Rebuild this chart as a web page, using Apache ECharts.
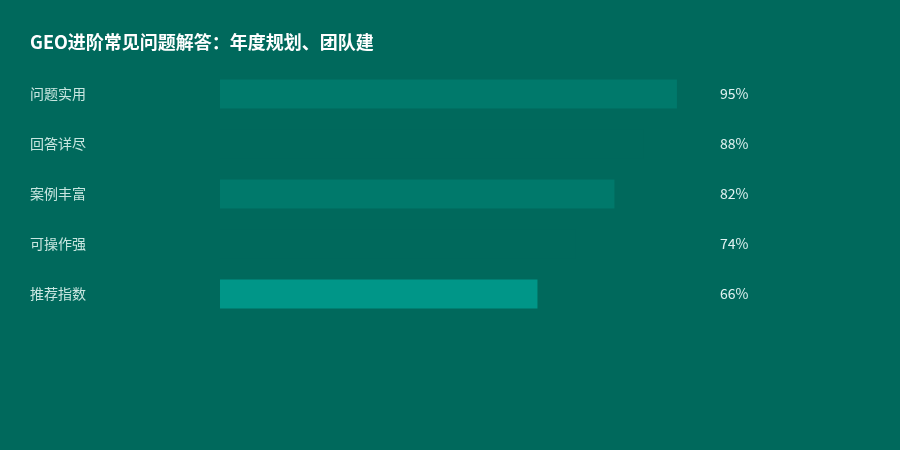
<!DOCTYPE html>
<html>
<head>
<meta charset="utf-8">
<script src="https://cdn.jsdelivr.net/npm/echarts@6/dist/echarts.min.js"></script>
<style>
html,body{margin:0;padding:0;background:#00695C;}
#c{width:900px;height:450px;}
</style>
</head>
<body>
<div id="c"></div>
<script>
var titleText = "GEO进阶常见问题解答：年度规划、团队建";
var categories = ["问题实用", "回答详尽", "案例丰富", "可操作强", "推荐指数"];
var values = [95, 88, 82, 74, 66];
var barColors = ["#00796B", "#00695C", "#00796B", "#00695C", "#009688"];

var chart = echarts.init(document.getElementById('c'));
chart.setOption({
  backgroundColor: "#00695C",
  animation: false,
  title: {
    text: titleText,
    left: 30,
    top: 33,
    padding: 0,
    textStyle: { color: "#ffffff", fontSize: 18, fontWeight: "bold", fontFamily: "Noto Sans CJK SC" }
  },
  grid: { left: 220, right: 199, top: 69, height: 250, containLabel: false },
  xAxis: {
    type: "value", min: 0, max: 100, show: false
  },
  yAxis: [{
    type: "category",
    data: categories,
    inverse: true,
    axisLine: { show: false },
    axisTick: { show: false },
    splitLine: { show: false },
    axisLabel: {
      color: "#C8E6E0",
      fontSize: 14,
      fontFamily: "Noto Sans CJK SC",
      align: "left",
      margin: 190
    }
  }, {
    type: "category",
    data: categories,
    inverse: true,
    position: "right",
    axisLine: { show: false },
    axisTick: { show: false },
    splitLine: { show: false },
    axisLabel: {
      color: "#E0F2F1",
      fontSize: 14,
      fontFamily: "Noto Sans CJK SC",
      align: "left",
      margin: 19,
      formatter: function (v, i) { return values[i] + "%"; }
    }
  }],
  series: [{
    type: "bar",
    yAxisIndex: 0,
    barWidth: 29,
    data: values.map(function (v, i) {
      return { value: v, itemStyle: { color: barColors[i] } };
    })
  }]
});
</script>
</body>
</html>
